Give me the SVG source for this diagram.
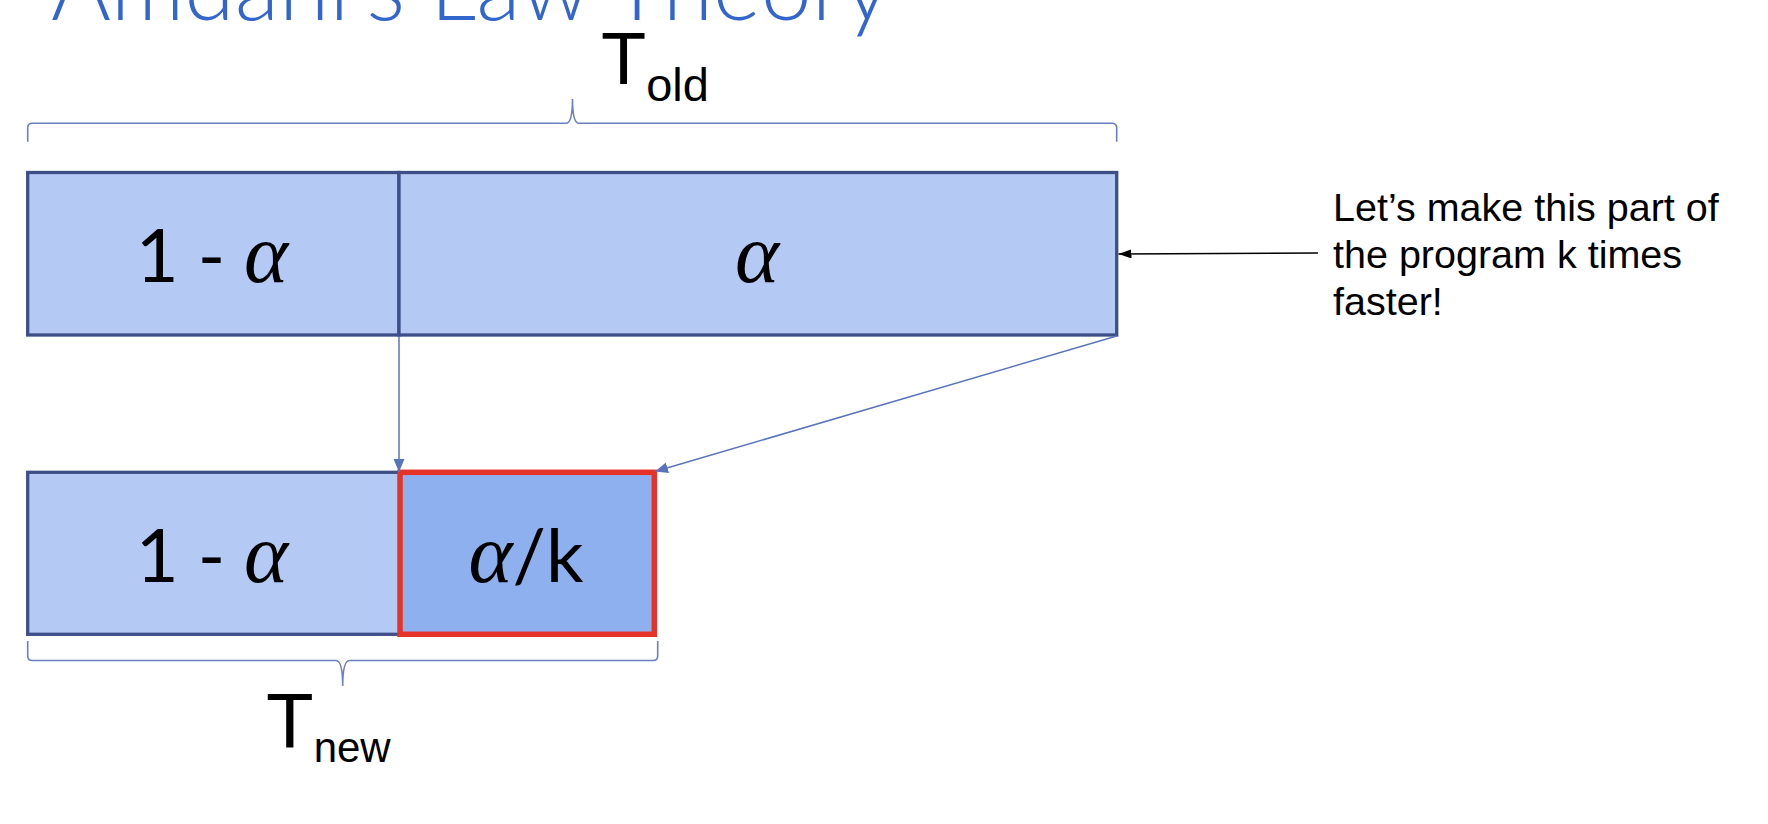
<svg xmlns="http://www.w3.org/2000/svg" width="1768" height="824" viewBox="0 0 1768 824">
  <style>
    .box { fill: #B4CAF4; stroke: #3E4F87; stroke-width: 3.3; }
    .fast { fill: #8FB0EE; stroke: #E5332A; stroke-width: 5.5; }
    .lbl { font-family: Lato, "Liberation Sans", sans-serif; font-size: 74px; fill: #000; text-anchor: middle; }
    .greek { font-family: "Liberation Serif", serif; font-style: italic; font-size: 84px; }
    .brace { fill: none; stroke: #6B80C0; stroke-width: 1.6; }
    .conn { fill: none; stroke: #5A73BD; stroke-width: 1.5; }
    .note { font-family: "Liberation Sans", Arial, sans-serif; font-size: 39.5px; fill: #000; }
    .tlab { font-family: "Liberation Sans", Arial, sans-serif; fill: #000; }
    .title { font-family: Lato, "Liberation Sans", sans-serif; font-weight: 300; font-size: 92px; fill: #3366CC; }
  </style>
  <defs>
    <marker id="blueHead" markerUnits="userSpaceOnUse" markerWidth="14" markerHeight="12" refX="13" refY="5.5" orient="auto">
      <path d="M0,0 L13,5.5 L0,11 Z" fill="#5A73BD"/>
    </marker>
    <marker id="blackHead" markerUnits="userSpaceOnUse" markerWidth="14" markerHeight="10" refX="13" refY="4.5" orient="auto">
      <path d="M0,0 L13,4.5 L0,9 Z" fill="#000"/>
    </marker>
  </defs>

  <rect width="1768" height="824" fill="#ffffff"/>

  <g id="title">
    <text class="title" x="51" y="20" textLength="839" lengthAdjust="spacingAndGlyphs">Amdahl’s Law Theory</text>
  </g>

  <g id="brace-old">
    <path class="brace" d="M27.7,141.7 V128 Q27.7,123.3 32.5,123.3 H566 Q572.5,123.3 572.5,99 Q572.5,123.3 579,123.3 H1112 Q1116.7,123.3 1116.7,128 V141.7"/>
    <text class="tlab" x="601" y="84" font-size="74">T<tspan font-size="47" dy="17">old</tspan></text>
  </g>

  <g id="old-serial">
    <rect class="box" x="27.7" y="172.5" width="371.3" height="162.5"/>
    <text class="lbl" x="212" y="282">1 - <tspan class="greek">α</tspan></text>
  </g>

  <g id="old-parallel">
    <rect class="box" x="399" y="172.5" width="717.7" height="162.5"/>
    <text class="lbl greek" x="757" y="282">α</text>
  </g>

  <g id="new-serial">
    <rect class="box" x="27.7" y="472.3" width="372.3" height="162"/>
    <text class="lbl" x="212" y="582">1 - <tspan class="greek">α</tspan></text>
  </g>

  <g id="new-parallel">
    <rect class="fast" x="400" y="472.3" width="254.3" height="162"/>
    <text class="lbl" x="526" y="582"><tspan class="greek">α</tspan>/k</text>
  </g>

  <g id="brace-new">
    <path class="brace" d="M27.7,641 V656 Q27.7,660.5 32.5,660.5 H336 Q342.7,660.5 342.7,686 Q342.7,660.5 349.5,660.5 H653 Q657.7,660.5 657.7,656 V641"/>
    <text class="tlab" x="266" y="748" font-size="78">T<tspan font-size="42" dy="14">new</tspan></text>
  </g>

  <g id="note">
    <text class="note" x="1333" y="221">Let’s make this part of</text>
    <text class="note" x="1333" y="268">the program k times</text>
    <text class="note" x="1333" y="315">faster!</text>
  </g>

  <g id="connectors">
    <line class="conn" x1="399" y1="337" x2="399" y2="472" marker-end="url(#blueHead)"/>
    <line class="conn" x1="1116.7" y1="336" x2="655" y2="471.5" marker-end="url(#blueHead)"/>
    <line x1="1318" y1="253" x2="1118.5" y2="254" stroke="#000" stroke-width="1.5" marker-end="url(#blackHead)"/>
  </g>
</svg>
